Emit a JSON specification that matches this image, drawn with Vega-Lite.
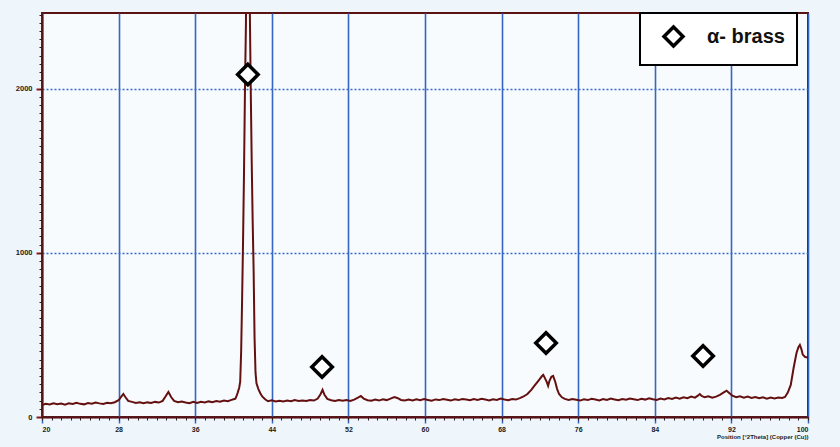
{
  "$schema": "https://vega.github.io/schema/vega-lite/v6.json",
  "width": 766,
  "height": 404,
  "autosize": {"type": "none"},
  "padding": {"left": 42, "top": 13, "right": 32, "bottom": 30},
  "background": "#eff6fb",
  "config": {
    "font": "Liberation Sans",
    "view": {"fill": "#f7fbfe", "stroke": "#5a1212", "strokeWidth": 2},
    "legend": {"strokeWidth": 2}
  },
  "datasets": {
    "profile": [
      {"angle": 20.0, "counts": 72}, {"angle": 20.4, "counts": 80}, {"angle": 20.8, "counts": 76}, {"angle": 21.2, "counts": 84},
      {"angle": 21.6, "counts": 78}, {"angle": 22.0, "counts": 82}, {"angle": 22.4, "counts": 75}, {"angle": 22.8, "counts": 83},
      {"angle": 23.2, "counts": 79}, {"angle": 23.6, "counts": 86}, {"angle": 24.0, "counts": 80}, {"angle": 24.4, "counts": 77},
      {"angle": 24.8, "counts": 85}, {"angle": 25.2, "counts": 81}, {"angle": 25.6, "counts": 88}, {"angle": 26.0, "counts": 83},
      {"angle": 26.4, "counts": 79}, {"angle": 26.8, "counts": 87}, {"angle": 27.2, "counts": 84}, {"angle": 27.6, "counts": 90},
      {"angle": 28.0, "counts": 102}, {"angle": 28.3, "counts": 125}, {"angle": 28.5, "counts": 140}, {"angle": 28.7, "counts": 122},
      {"angle": 29.0, "counts": 98}, {"angle": 29.4, "counts": 92}, {"angle": 29.8, "counts": 86}, {"angle": 30.2, "counts": 90},
      {"angle": 30.6, "counts": 84}, {"angle": 31.0, "counts": 89}, {"angle": 31.4, "counts": 86}, {"angle": 31.8, "counts": 92},
      {"angle": 32.2, "counts": 88}, {"angle": 32.6, "counts": 98}, {"angle": 32.9, "counts": 125}, {"angle": 33.2, "counts": 152},
      {"angle": 33.5, "counts": 120}, {"angle": 33.8, "counts": 98}, {"angle": 34.2, "counts": 90}, {"angle": 34.6, "counts": 94},
      {"angle": 35.0, "counts": 88}, {"angle": 35.4, "counts": 84}, {"angle": 35.8, "counts": 92}, {"angle": 36.2, "counts": 86},
      {"angle": 36.6, "counts": 93}, {"angle": 37.0, "counts": 88}, {"angle": 37.4, "counts": 95}, {"angle": 37.8, "counts": 90},
      {"angle": 38.2, "counts": 97}, {"angle": 38.6, "counts": 93}, {"angle": 39.0, "counts": 100}, {"angle": 39.4, "counts": 96},
      {"angle": 39.8, "counts": 104}, {"angle": 40.0, "counts": 108}, {"angle": 40.2, "counts": 112}, {"angle": 40.3, "counts": 125},
      {"angle": 40.45, "counts": 150}, {"angle": 40.6, "counts": 180}, {"angle": 40.7, "counts": 215}, {"angle": 40.8, "counts": 400},
      {"angle": 40.9, "counts": 720}, {"angle": 41.0, "counts": 1080}, {"angle": 41.1, "counts": 1500}, {"angle": 41.2, "counts": 2000},
      {"angle": 41.3, "counts": 2400}, {"angle": 41.4, "counts": 3300}, {"angle": 41.5, "counts": 3500}, {"angle": 41.6, "counts": 3300},
      {"angle": 41.7, "counts": 2500}, {"angle": 41.8, "counts": 2000}, {"angle": 41.9, "counts": 1560}, {"angle": 42.0, "counts": 1200},
      {"angle": 42.1, "counts": 900}, {"angle": 42.2, "counts": 480}, {"angle": 42.3, "counts": 270}, {"angle": 42.4, "counts": 205},
      {"angle": 42.6, "counts": 170}, {"angle": 42.8, "counts": 145}, {"angle": 43.0, "counts": 125}, {"angle": 43.3, "counts": 108},
      {"angle": 43.6, "counts": 96}, {"angle": 44.0, "counts": 102}, {"angle": 44.4, "counts": 95}, {"angle": 44.8, "counts": 99},
      {"angle": 45.2, "counts": 94}, {"angle": 45.6, "counts": 100}, {"angle": 46.0, "counts": 96}, {"angle": 46.4, "counts": 103},
      {"angle": 46.8, "counts": 98}, {"angle": 47.2, "counts": 101}, {"angle": 47.6, "counts": 97}, {"angle": 48.0, "counts": 104},
      {"angle": 48.4, "counts": 100}, {"angle": 48.8, "counts": 112}, {"angle": 49.1, "counts": 140}, {"angle": 49.3, "counts": 165},
      {"angle": 49.5, "counts": 135}, {"angle": 49.8, "counts": 110}, {"angle": 50.2, "counts": 102}, {"angle": 50.6, "counts": 97},
      {"angle": 51.0, "counts": 104}, {"angle": 51.4, "counts": 99}, {"angle": 51.8, "counts": 103}, {"angle": 52.2, "counts": 98},
      {"angle": 52.6, "counts": 106}, {"angle": 53.0, "counts": 118}, {"angle": 53.3, "counts": 128}, {"angle": 53.6, "counts": 112},
      {"angle": 54.0, "counts": 102}, {"angle": 54.4, "counts": 99}, {"angle": 54.8, "counts": 106}, {"angle": 55.2, "counts": 100},
      {"angle": 55.6, "counts": 108}, {"angle": 56.0, "counts": 103}, {"angle": 56.4, "counts": 112}, {"angle": 56.8, "counts": 122},
      {"angle": 57.1, "counts": 116}, {"angle": 57.5, "counts": 104}, {"angle": 57.9, "counts": 100}, {"angle": 58.3, "counts": 106},
      {"angle": 58.7, "counts": 101}, {"angle": 59.1, "counts": 108}, {"angle": 59.5, "counts": 102}, {"angle": 59.9, "counts": 109},
      {"angle": 60.3, "counts": 104}, {"angle": 60.7, "counts": 99}, {"angle": 61.1, "counts": 107}, {"angle": 61.5, "counts": 103},
      {"angle": 61.9, "counts": 110}, {"angle": 62.3, "counts": 105}, {"angle": 62.7, "counts": 100}, {"angle": 63.1, "counts": 108},
      {"angle": 63.5, "counts": 103}, {"angle": 63.9, "counts": 110}, {"angle": 64.3, "counts": 106}, {"angle": 64.7, "counts": 102},
      {"angle": 65.1, "counts": 109}, {"angle": 65.5, "counts": 104}, {"angle": 65.9, "counts": 111}, {"angle": 66.3, "counts": 106},
      {"angle": 66.7, "counts": 101}, {"angle": 67.1, "counts": 108}, {"angle": 67.5, "counts": 104}, {"angle": 67.9, "counts": 112},
      {"angle": 68.3, "counts": 106}, {"angle": 68.7, "counts": 102}, {"angle": 69.1, "counts": 110}, {"angle": 69.5, "counts": 106},
      {"angle": 69.9, "counts": 115}, {"angle": 70.3, "counts": 125}, {"angle": 70.7, "counts": 140}, {"angle": 71.1, "counts": 165},
      {"angle": 71.5, "counts": 195}, {"angle": 71.9, "counts": 225}, {"angle": 72.2, "counts": 248}, {"angle": 72.35, "counts": 256},
      {"angle": 72.5, "counts": 240}, {"angle": 72.7, "counts": 215}, {"angle": 72.86, "counts": 189}, {"angle": 73.0, "counts": 220},
      {"angle": 73.2, "counts": 245}, {"angle": 73.38, "counts": 250}, {"angle": 73.6, "counts": 215}, {"angle": 73.8, "counts": 170},
      {"angle": 74.0, "counts": 140}, {"angle": 74.3, "counts": 120}, {"angle": 74.6, "counts": 110}, {"angle": 75.0, "counts": 104},
      {"angle": 75.4, "counts": 110}, {"angle": 75.8, "counts": 105}, {"angle": 76.2, "counts": 100}, {"angle": 76.6, "counts": 108},
      {"angle": 77.0, "counts": 103}, {"angle": 77.4, "counts": 111}, {"angle": 77.8, "counts": 106}, {"angle": 78.2, "counts": 101},
      {"angle": 78.6, "counts": 109}, {"angle": 79.0, "counts": 104}, {"angle": 79.4, "counts": 112}, {"angle": 79.8, "counts": 107},
      {"angle": 80.2, "counts": 102}, {"angle": 80.6, "counts": 110}, {"angle": 81.0, "counts": 105}, {"angle": 81.4, "counts": 113},
      {"angle": 81.8, "counts": 108}, {"angle": 82.2, "counts": 103}, {"angle": 82.6, "counts": 111}, {"angle": 83.0, "counts": 106},
      {"angle": 83.4, "counts": 114}, {"angle": 83.8, "counts": 108}, {"angle": 84.2, "counts": 104}, {"angle": 84.6, "counts": 112},
      {"angle": 85.0, "counts": 107}, {"angle": 85.4, "counts": 115}, {"angle": 85.8, "counts": 110}, {"angle": 86.2, "counts": 118},
      {"angle": 86.6, "counts": 112}, {"angle": 87.0, "counts": 120}, {"angle": 87.4, "counts": 114}, {"angle": 87.8, "counts": 124},
      {"angle": 88.2, "counts": 118}, {"angle": 88.5, "counts": 130}, {"angle": 88.7, "counts": 140}, {"angle": 88.9, "counts": 128},
      {"angle": 89.2, "counts": 120}, {"angle": 89.6, "counts": 126}, {"angle": 90.0, "counts": 118}, {"angle": 90.4, "counts": 124},
      {"angle": 90.8, "counts": 135}, {"angle": 91.2, "counts": 150}, {"angle": 91.5, "counts": 160}, {"angle": 91.8, "counts": 145},
      {"angle": 92.1, "counts": 130}, {"angle": 92.5, "counts": 120}, {"angle": 92.9, "counts": 126}, {"angle": 93.3, "counts": 118},
      {"angle": 93.7, "counts": 124}, {"angle": 94.1, "counts": 116}, {"angle": 94.5, "counts": 122}, {"angle": 94.9, "counts": 114},
      {"angle": 95.3, "counts": 120}, {"angle": 95.7, "counts": 112}, {"angle": 96.1, "counts": 118}, {"angle": 96.5, "counts": 113},
      {"angle": 96.9, "counts": 119}, {"angle": 97.3, "counts": 116}, {"angle": 97.6, "counts": 122}, {"angle": 97.9, "counts": 150},
      {"angle": 98.2, "counts": 195}, {"angle": 98.5, "counts": 300}, {"angle": 98.8, "counts": 390}, {"angle": 99.0, "counts": 425},
      {"angle": 99.15, "counts": 439}, {"angle": 99.3, "counts": 415}, {"angle": 99.45, "counts": 380}, {"angle": 99.7, "counts": 365},
      {"angle": 100.0, "counts": 362}
    ],
    "reflections": [
      {"angle": 41.5, "counts": 2085, "phase": "α- brass"},
      {"angle": 49.25, "counts": 305, "phase": "α- brass"},
      {"angle": 72.64, "counts": 451, "phase": "α- brass"},
      {"angle": 89.04, "counts": 372, "phase": "α- brass"}
    ]
  },
  "layer": [
    {
      "data": {"name": "profile"},
      "mark": {"type": "line", "color": "#641010", "strokeWidth": 2, "clip": true},
      "encoding": {
        "x": {
          "field": "angle", "type": "quantitative",
          "scale": {"domain": [20, 100], "nice": false, "zero": false},
          "axis": {
            "orient": "bottom",
            "values": [20, 28, 36, 44, 52, 60, 68, 76, 84, 92, 100],
            "grid": true, "gridColor": "#3566c4", "gridWidth": 1.6,
            "domainColor": "#5a1212", "domainWidth": 2,
            "tickColor": "#3566c4", "tickSize": 6, "tickWidth": 1.5,
            "labelFontSize": 7, "labelFontWeight": "bold", "labelColor": "#1a1a1a", "labelPadding": 2,
            "title": "Position [°2Theta] (Copper (Cu))",
            "titleFontSize": 6, "titleFontWeight": "bold", "titleColor": "#1a1a1a",
            "titleAnchor": "end", "titlePadding": 1
          }
        },
        "y": {
          "field": "counts", "type": "quantitative",
          "scale": {"domain": [0, 2460], "nice": false},
          "axis": {
            "orient": "left",
            "values": [0, 1000, 2000], "format": "d",
            "grid": true, "gridColor": "#3a6ac8", "gridWidth": 1.3, "gridDash": [2, 2],
            "domainColor": "#5a1212", "domainWidth": 2,
            "tickColor": "#8a1a1a", "tickSize": 6, "tickWidth": 2,
            "labelFontSize": 7.5, "labelFontWeight": "bold", "labelColor": "#1a1a1a", "labelPadding": 4,
            "title": null
          }
        }
      }
    },
    {
      "data": {"name": "profile"},
      "mark": {"type": "line", "opacity": 0},
      "encoding": {
        "x": {
          "field": "angle", "type": "quantitative",
          "axis": {"orient": "bottom", "tickCount": 80, "labels": false, "grid": false, "domain": false,
                   "tickSize": 3, "tickColor": "#3a1a1a", "title": null}
        },
        "y": {
          "field": "counts", "type": "quantitative",
          "axis": {"orient": "left", "tickCount": 50, "labels": false, "grid": false, "domain": false,
                   "tickSize": 3, "tickColor": "#3a1a1a", "title": null}
        }
      }
    },
    {
      "data": {"name": "reflections"},
      "mark": {"type": "point", "filled": false, "fill": "white", "fillOpacity": 1, "strokeWidth": 3.5, "size": 420, "opacity": 1},
      "encoding": {
        "x": {"field": "angle", "type": "quantitative", "axis": null},
        "y": {"field": "counts", "type": "quantitative", "axis": null},
        "stroke": {
          "field": "phase", "type": "nominal",
          "scale": {"range": ["black"]},
          "legend": {
            "orient": "none", "legendX": 598, "legendY": 0,
            "title": null,
            "fillColor": "white", "strokeColor": "black",
            "padding": 12, "cornerRadius": 0,
            "symbolSize": 360, "symbolStrokeWidth": 3.5, "symbolFillColor": "white",
            "symbolOffset": 10, "labelOffset": 22,
            "labelFontSize": 20, "labelFontWeight": "bold", "labelColor": "#111111"
          }
        },
        "shape": {
          "field": "phase", "type": "nominal",
          "scale": {"range": ["diamond"]},
          "legend": {
            "orient": "none", "legendX": 598, "legendY": 0,
            "title": null,
            "fillColor": "white", "strokeColor": "black",
            "padding": 12, "cornerRadius": 0,
            "symbolSize": 360, "symbolStrokeWidth": 3.5, "symbolFillColor": "white",
            "symbolOffset": 10, "labelOffset": 22,
            "labelFontSize": 20, "labelFontWeight": "bold", "labelColor": "#111111"
          }
        }
      }
    }
  ],
  "resolve": {"axis": {"x": "independent", "y": "independent"}}
}
